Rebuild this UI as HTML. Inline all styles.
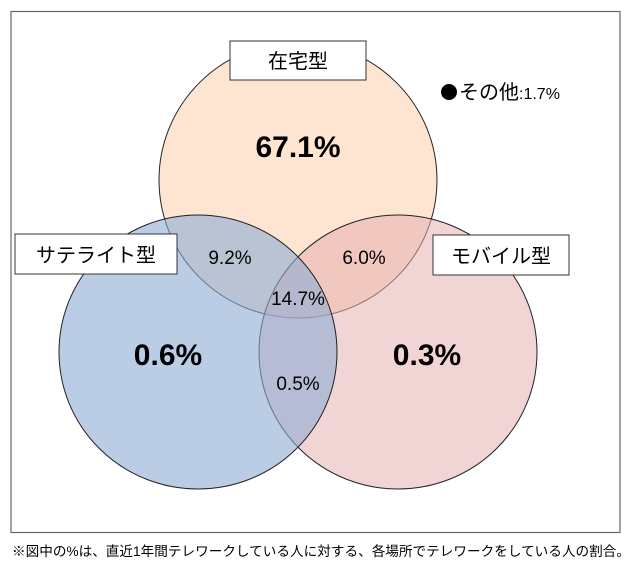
<!DOCTYPE html>
<html><head><meta charset="utf-8"><style>
body{margin:0;background:#fff;width:636px;height:571px;overflow:hidden;font-family:"Liberation Sans","Noto Sans CJK JP",sans-serif;}
</style></head><body>
<svg width="636" height="571" xmlns="http://www.w3.org/2000/svg" style="position:absolute;left:0;top:0">
<rect x="11" y="11.5" width="609" height="521" fill="#fff" stroke="#666" stroke-width="1.2"/>
<g stroke="#222" stroke-width="1">
<ellipse cx="298" cy="180" rx="139" ry="138" fill="#fbd4b4" fill-opacity="0.6"/>
<ellipse cx="398" cy="352" rx="139" ry="137" fill="#e6b0b0" fill-opacity="0.55"/>
<ellipse cx="198" cy="352" rx="139" ry="137" fill="#8eabd3" fill-opacity="0.6"/>
</g>
<g fill="#fff" stroke="#333" stroke-width="1">
<rect x="230" y="41" width="136" height="39"/>
<rect x="15" y="234" width="162" height="40"/>
<rect x="433" y="235" width="136" height="40"/>
</g>
<circle cx="449" cy="92" r="8" fill="#000"/>
<g font-family="Liberation Sans, Noto Sans CJK JP, sans-serif" text-anchor="middle" fill="#000">
<text x="298" y="68" font-size="20">在宅型</text>
<text x="96" y="262" font-size="20">サテライト型</text>
<text x="501" y="263" font-size="20">モバイル型</text>
<text x="298" y="157" font-size="30" font-weight="bold">67.1%</text>
<text x="230" y="264" font-size="19">9.2%</text>
<text x="364" y="264" font-size="19">6.0%</text>
<text x="298" y="305" font-size="19">14.7%</text>
<text x="168" y="365" font-size="30" font-weight="bold">0.6%</text>
<text x="427" y="365" font-size="30" font-weight="bold">0.3%</text>
<text x="298" y="390" font-size="19">0.5%</text>
<text x="459" y="99" font-size="20" text-anchor="start">その他<tspan font-size="16">:1.7%</tspan></text>
<text x="12" y="556" font-size="13.6" text-anchor="start" textLength="618" lengthAdjust="spacingAndGlyphs">※図中の%は、直近1年間テレワークしている人に対する、各場所でテレワークをしている人の割合。</text>
</g>
</svg>
</body></html>
